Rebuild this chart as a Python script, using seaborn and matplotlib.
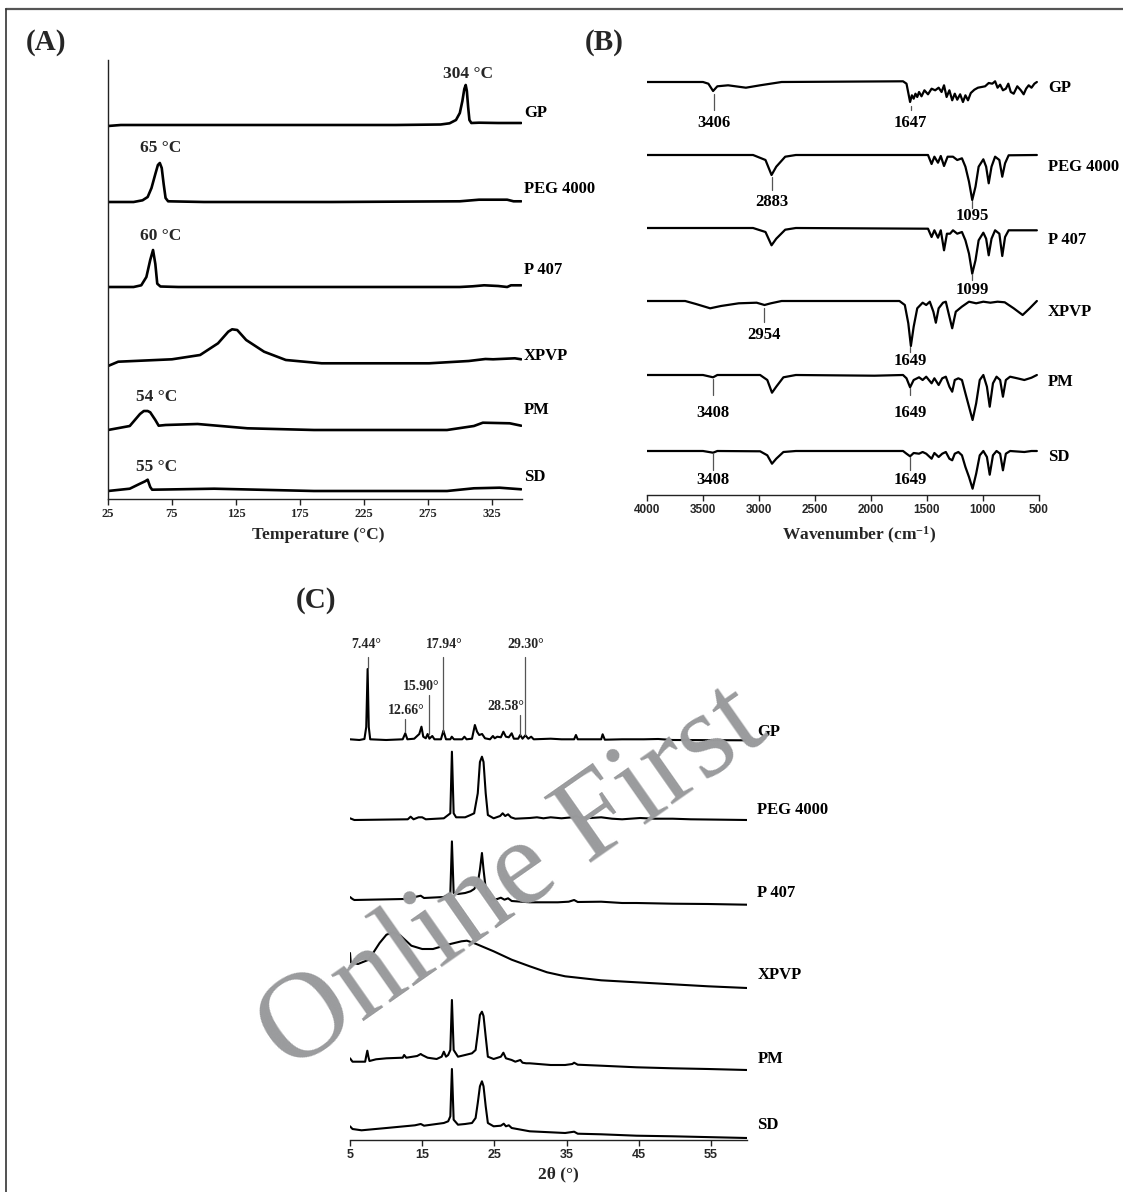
import numpy as np
import matplotlib
matplotlib.use("Agg")
import matplotlib.pyplot as plt
from matplotlib.lines import Line2D
import seaborn as sns

# ---------------- data ----------------
samples = ["GP", "PEG 4000", "P 407", "XPVP", "PM", "SD"]

# (A) DSC: temperature (°C) and heat flow (arbitrary, endo up)
dsc_temp_gp = [25, 35, 150, 250, 285, 292, 297, 300, 302, 303.5, 304.6, 305.5, 306.5, 307.5, 309, 315, 330, 348]
dsc_flow_gp = [-1, 0, 0, 0, 0.5, 1.7, 5, 12, 24, 36, 40, 34, 18, 5, 2, 2.3, 2, 2]
dsc_temp_peg = [25, 45, 52, 56, 59, 62, 64, 65.5, 67, 68.5, 70, 72, 100, 200, 300, 315, 337, 342, 348]
dsc_flow_peg = [0, 0, 1.7, 5, 14, 28, 37, 39, 34, 18, 4, 0.7, 0, 0, 0.7, 2.3, 2.3, 0.7, 0.7]
dsc_temp_p407 = [25, 45, 51, 55, 58, 60.2, 62, 63.5, 66, 80, 200, 300, 310, 319, 330, 337, 340, 348]
dsc_flow_p407 = [0, 0, 1.7, 10, 27, 37, 23, 3.3, 0.5, 0, 0, 0, 0.7, 1.7, 1, 0, 1.7, 1.7]
dsc_temp_xpvp = [25, 33, 75, 97, 111, 119, 122, 126, 133, 147, 164, 192, 276, 307, 320, 326, 343, 348]
dsc_flow_xpvp = [0, 4.3, 6.7, 11, 22.7, 34.3, 36.7, 36, 26, 14.3, 6, 2.7, 2.7, 5, 7, 6.7, 7.7, 6.7]
dsc_temp_pm = [25, 42, 46, 50, 53, 56, 58, 62, 64.6, 70, 95, 134, 186, 290, 311, 318, 339, 348]
dsc_flow_pm = [0, 4, 10, 16, 19, 19, 17.7, 10, 4.3, 5, 6, 1.7, 0, 0, 4, 7.3, 6.7, 4.3]
dsc_temp_sd = [25, 42, 50, 54, 56, 58, 59.5, 70, 108, 186, 290, 311, 331, 348]
dsc_flow_sd = [0, 2.3, 7.3, 9.7, 11.3, 4, 1.3, 1.5, 2.3, 0, 0, 2.7, 3.3, 1.7]
dsc_peak_labels = ["304 °C", "65 °C", "60 °C", None, "54 °C", "55 °C"]

# (B) FTIR: wavenumber (cm-1) and transmittance (arbitrary)
ftir_wn_gp = [4000, 3500, 3452, 3410, 3372, 3276, 3117, 2990, 2798, 1714, 1683, 1651, 1635, 1619, 1603,
              1587, 1571, 1549, 1523, 1491, 1459, 1427, 1396, 1370, 1348, 1325, 1300, 1275, 1252, 1230,
              1204, 1179, 1157, 1134, 1109, 1077, 1045, 1013, 981, 949, 917, 892, 870, 847, 822, 796,
              774, 752, 726, 694, 662, 637, 615, 592, 567, 541, 519]
ftir_t_gp = [0, 0, -1.7, -9, -4.3, -3.3, -5.7, -3.3, 0, 0.7, -1.7, -20, -13.3, -16.7, -11.7,
             -15, -10, -14.3, -8.3, -12.3, -6.7, -8.3, -5.7, -10, -3.3, -15, -8.3, -18.3, -11.7, -17.7,
             -12.3, -20, -13.3, -18.3, -11, -7.7, -5.7, -5, -4.3, -1, -1.7, 0.7, -5.7, -2.7, -8.3, -6.7,
             -1.7, -10, -11.7, -4.3, -8.3, -12.3, -6.7, -3.3, -5.7, -1.7, 0]
ftir_wn_peg = [4000, 3053, 2942, 2888, 2846, 2766, 2671, 1491, 1459, 1434, 1402, 1377, 1348, 1316, 1268,
               1230, 1188, 1157, 1125, 1096, 1067, 1039, 997, 972, 949, 924, 892, 854, 828, 803, 771, 519]
ftir_t_peg = [0, 0, -5, -20, -11.7, -1.7, 0, 0, -9, -1.7, -7.7, -1, -11, -1.7, -1.7,
              -5, -3.3, -11.7, -26.7, -45, -31.7, -11.7, -4.3, -11.7, -28.3, -11.7, -1.7, -5, -21.7, -8.3, -0.3, 0]
ftir_wn_p407 = [4000, 3053, 2942, 2888, 2846, 2766, 2671, 1491, 1459, 1434, 1402, 1377, 1348, 1322, 1294,
                1268, 1230, 1188, 1157, 1125, 1096, 1067, 1039, 997, 972, 949, 924, 892, 854, 828, 803,
                771, 631, 519]
ftir_t_p407 = [0, 0, -4, -17.3, -10.7, -1.7, 0, -0.7, -9, -2.3, -9.7, -2.3, -22.3, -5.7, -5.7,
               -2.3, -5.7, -4, -12.3, -25.7, -45.7, -32.3, -12.3, -4.7, -10.7, -27.3, -10.7, -2.3, -5.7, -28, -9,
               -2.3, -2.3, -2.3]
ftir_wn_xpvp = [4000, 3659, 3563, 3436, 3340, 3181, 3021, 2951, 2894, 2798, 1746, 1698, 1667, 1644, 1619,
                1587, 1539, 1507, 1475, 1443, 1421, 1396, 1357, 1332, 1300, 1275, 1243, 1189, 1125, 1061,
                997, 934, 870, 806, 726, 646, 583, 519]
ftir_t_xpvp = [0, 0, -3, -7.3, -5, -2.3, -1.7, -4, -2.3, 0, 0, -4, -22.3, -45, -25.7,
               -7.3, -1.7, -4, -0.7, -10.7, -21.7, -7.3, -1.7, -0.7, -15.7, -27.3, -10.7, -5.7, -0.7, -2.3,
               -0.7, -1.7, -0.7, -1.3, -7.3, -14, -7.3, 0]
ftir_wn_pm = [4000, 3500, 3410, 3372, 2990, 2926, 2884, 2846, 2782, 2671, 1969, 1714, 1683, 1651, 1619,
              1571, 1539, 1507, 1459, 1434, 1396, 1364, 1332, 1300, 1275, 1252, 1220, 1188, 1157, 1125,
              1093, 1061, 1029, 997, 965, 940, 911, 879, 847, 822, 796, 758, 694, 631, 567, 519]
ftir_t_pm = [0, 0, -2.3, 0, 0, -5, -17.7, -11.7, -2.3, 0, -0.7, 0, -3.3, -12.3, -5,
             -2.3, -5, -1.7, -8.3, -3.3, -10, -3.3, -1.7, -11.7, -16.7, -5, -3.3, -5, -18.3, -31.7,
             -45, -28.3, -5, 0, -11.7, -31.7, -8.3, -1.7, -5, -21.7, -5, -1.7, -3.3, -5, -2.7, 0]
ftir_wn_sd = [4000, 3500, 3410, 3372, 2990, 2926, 2884, 2846, 2782, 2671, 1714, 1683, 1651, 1619, 1571,
              1539, 1507, 1459, 1434, 1396, 1364, 1332, 1300, 1275, 1252, 1220, 1188, 1157, 1125, 1093,
              1061, 1029, 997, 965, 940, 911, 879, 847, 822, 796, 758, 631, 567, 519]
ftir_t_sd = [0, 0, -1.7, 0, -0.3, -4.3, -12.7, -7.7, -1, 0, 0, -2.7, -5.3, -2, -2.7,
             -1, -2.7, -7.7, -2, -6, -2.7, -1, -7.7, -9.3, -2.7, -1, -4.3, -16, -26, -37.7,
             -22.7, -4.3, 0, -6, -23.7, -4.3, 0, -2.7, -19.3, -2.7, 0, -1, 0, 0]
ftir_mark_sample = ["GP", "GP", "PEG 4000", "PEG 4000", "P 407", "XPVP", "XPVP", "PM", "PM", "SD", "SD"]
ftir_mark_wn = [3406, 1647, 2883, 1095, 1099, 2954, 1649, 3408, 1649, 3408, 1649]

# (C) XRD: 2theta (°) and intensity (arbitrary)
xrd_2t_gp = [5.0, 6.3, 7.0, 7.25, 7.44, 7.6, 7.8, 10.0, 12.3, 12.66, 12.95, 13.9, 14.3, 14.6, 14.9, 15.15,
             15.5, 15.75, 16.0, 16.4, 16.7, 17.6, 17.94, 18.3, 18.9, 19.1, 19.4, 20.55, 20.85, 21.15, 21.9,
             22.3, 22.6, 22.9, 23.3, 23.7, 24.4, 24.8, 25.05, 25.4, 25.9, 26.25, 26.6, 27.0, 27.4, 27.7,
             28.3, 28.58, 28.9, 29.3, 29.7, 30.1, 30.45, 32.8, 34.3, 36.05, 36.3, 36.55, 39.8, 40.0, 40.3,
             42.7, 45.7, 47.7, 49.7, 59.8]
xrd_i_gp = [0.7, 0, 1, 13, 71, 13, 0.7, 0, 0.7, 6.7, 0.7, 1.3, 4, 6, 13.3, 3.3,
            1.7, 6, 1.3, 4, 0.7, 0.7, 9.3, 0.7, 0.7, 3.3, 0.7, 0.7, 3.3, 0.7, 1.3,
            15, 8.3, 5, 6, 1.7, 0.7, 4, 1.7, 3.3, 2.7, 8.3, 3.3, 2.7, 6.7, 1.3,
            1.3, 5, 1.3, 4.7, 1.3, 3.3, 0.7, 1.3, 0.7, 0.7, 5, 0.7, 0.7, 5.7, 0.3,
            0.7, 0.7, 1, 0, -0.3]
xrd_2t_peg = [5.0, 5.6, 13.0, 13.4, 13.8, 14.5, 15.0, 15.5, 18.0, 18.6, 18.9, 19.12, 19.36, 19.7, 20.95,
              21.7, 22.2, 22.7, 23.0, 23.28, 23.5, 23.8, 24.1, 24.9, 25.8, 26.15, 26.5, 26.9, 27.3, 27.9,
              29.9, 30.9, 31.8, 32.8, 34.3, 35.8, 36.3, 36.8, 38.3, 39.8, 41.3, 42.7, 45.2, 47.2, 49.7,
              52.2, 60.0]
xrd_i_peg = [1.7, 0, 0.7, 3.3, 0.7, 2.7, 2.7, 0.7, 1.7, 5, 6.7, 68.3, 6.7, 2.7, 2.7,
             5, 6.7, 26.7, 58, 63.3, 58, 26.7, 5, 1.7, 4, 6.7, 4, 5.7, 2.7, 1.3,
             2, 2.7, 1.7, 2.7, 1.7, 2.7, 4, 2.3, 2, 2.7, 1.3, 0.7, 2, 1.3, 1.3,
             0.7, 0]
xrd_2t_p407 = [5.0, 5.35, 5.6, 12.5, 14.0, 14.8, 15.25, 18.0, 18.6, 18.9, 19.12, 19.36, 19.96, 20.95, 21.7,
               22.2, 22.7, 23.0, 23.28, 23.5, 23.9, 24.7, 25.4, 25.9, 26.4, 26.9, 27.4, 29.9, 33.8, 35.3,
               36.05, 36.55, 39.8, 42.7, 44.7, 49.7, 54.6, 60.0]
xrd_i_p407 = [2, 0, -1, 0, 2, 3.3, 1, 2, 4.3, 6, 57.6, 6, 5, 6, 7.7,
              10, 16, 29.3, 46, 29.3, 4.3, -0.7, 0, 1.3, -0.7, 0.7, -2, -3.3, -3.3, -2.7,
              -1, -3, -2.7, -4, -4, -4.7, -5, -5.7]
xrd_2t_xpvp = [5.0, 5.1, 6.1, 7.6, 9.1, 10.05, 10.95, 12.0, 13.5, 15.0, 16.5, 18.5, 20.45, 21.2, 22.4,
               24.9, 27.4, 29.9, 32.3, 34.8, 37.3, 39.8, 44.7, 49.7, 54.6, 60.0]
xrd_i_xpvp = [35, 25.7, 24, 28.3, 45, 53.3, 55.7, 52.3, 42.3, 39, 39, 43.3, 46.7, 47.3, 44.3,
              36.7, 28.3, 21.7, 15.7, 11.7, 9.7, 7.7, 5.7, 3.7, 1.7, 0]
xrd_2t_pm = [5.0, 5.35, 7.1, 7.23, 7.4, 7.55, 7.7, 8.6, 10.05, 12.3, 12.5, 12.8, 14.3, 14.8, 15.0,
             15.75, 17.0, 17.7, 18.0, 18.3, 18.6, 18.9, 19.12, 19.36, 19.96, 20.95, 21.9, 22.4, 22.7, 23.0,
             23.28, 23.5, 23.8, 24.1, 24.9, 25.9, 26.25, 26.6, 27.4, 27.9, 28.6, 28.9, 29.4, 29.9, 32.8,
             34.8, 35.8, 36.05, 36.55, 39.8, 44.7, 49.7, 54.6, 60.0]
xrd_i_pm = [1.7, -1.7, -1.7, 3.3, 9.3, 3.3, -1, 0.7, 1.7, 2.3, 5, 2.3, 4, 6, 5,
            2.3, 1, 3.3, 8.3, 3.3, 5, 10, 60, 10, 3.3, 5, 6.7, 10, 26.7, 45,
            48.3, 44, 23.3, 3.3, 1, 3.3, 7.3, 1.7, 0, -1.7, 0, -2.7, -3.3, -3.3, -5,
            -5, -4, -2.7, -4.7, -5.7, -7.3, -8.3, -9, -10]
xrd_2t_sd = [5.0, 5.35, 6.6, 10.05, 14.0, 14.8, 15.0, 15.25, 18.0, 18.6, 18.9, 19.12, 19.36, 19.96, 20.95,
             21.9, 22.4, 22.7, 23.0, 23.28, 23.5, 23.8, 24.1, 24.9, 25.9, 26.3, 26.6, 27.0, 27.4, 29.9,
             32.8, 34.8, 36.05, 36.55, 39.8, 44.7, 49.7, 60.0]
xrd_i_sd = [1.7, -1, -2.3, 0, 2.7, 4, 3.3, 2.3, 5, 6.7, 11.7, 59, 8.3, 3.3, 4,
            5, 10, 25, 41.7, 46.7, 41.7, 21.7, 5, 1.7, 2.3, 4.3, 1.7, 2.7, 0, -3.3,
            -4.3, -5, -3.7, -5.7, -6.3, -7.7, -8.3, -10]
xrd_mark_angles = [7.44, 12.66, 15.90, 17.94, 28.58, 29.30]

dsc_x = [dsc_temp_gp, dsc_temp_peg, dsc_temp_p407, dsc_temp_xpvp, dsc_temp_pm, dsc_temp_sd]
dsc_y = [dsc_flow_gp, dsc_flow_peg, dsc_flow_p407, dsc_flow_xpvp, dsc_flow_pm, dsc_flow_sd]
ftir_x = [ftir_wn_gp, ftir_wn_peg, ftir_wn_p407, ftir_wn_xpvp, ftir_wn_pm, ftir_wn_sd]
ftir_y = [ftir_t_gp, ftir_t_peg, ftir_t_p407, ftir_t_xpvp, ftir_t_pm, ftir_t_sd]
xrd_x = [xrd_2t_gp, xrd_2t_peg, xrd_2t_p407, xrd_2t_xpvp, xrd_2t_pm, xrd_2t_sd]
xrd_y = [xrd_i_gp, xrd_i_peg, xrd_i_p407, xrd_i_xpvp, xrd_i_pm, xrd_i_sd]

# ---------------- style ----------------
sns.set_theme(style="white")
SERIF = ["Liberation Serif", "DejaVu Serif"]
SANS = ["Liberation Sans Narrow", "Liberation Sans", "DejaVu Sans"]
plt.rcParams["font.family"] = SERIF
plt.rcParams["mathtext.fontset"] = "custom"
plt.rcParams["mathtext.rm"] = "Liberation Serif:bold"
plt.rcParams["mathtext.bf"] = "Liberation Serif:bold"
plt.rcParams["mathtext.default"] = "rm"

W, H = 1123, 1192
fig = plt.figure(figsize=(W / 100, H / 100), dpi=100)
fig.patch.set_facecolor("white")


def box(x0, y0, x1, y1):
    return [x0 / W, 1 - y1 / H, (x1 - x0) / W, (y1 - y0) / H]


axA = fig.add_axes(box(108, 60, 522, 499))
axB = fig.add_axes(box(647, 60, 1039, 495))
axC = fig.add_axes(box(350, 620, 747, 1140))
for ax in (axA, axB, axC):
    ax.set_facecolor("none")
    for s in ("top", "right"):
        ax.spines[s].set_visible(False)
    ax.spines["bottom"].set_color("#222222")
    ax.spines["bottom"].set_linewidth(1.0)
    ax.tick_params(axis="x", bottom=True, direction="out", length=4, width=1.0,
                   color="#222222", pad=2.5)
    ax.tick_params(axis="y", left=False, labelleft=False)
axA.spines["left"].set_color("#222222")
axA.spines["left"].set_linewidth(1.0)
axB.spines["left"].set_visible(False)
axC.spines["left"].set_visible(False)

LBL = dict(fontsize=12, fontweight="bold", color="black", clip_on=False)

# ---------------- (A) DSC ----------------
offA = [374, 297, 212, 133, 69, 8]
lblA_dy = [12, 13, 17, 10, 20, 14]
annA_gap = [11, 15, 14, None, 14, 13]
annA_dx = [1.7, 0.5, 5.8, None, 9.7, 6.7]
for i, name in enumerate(samples):
    x = np.asarray(dsc_x[i], float)
    y = np.asarray(dsc_y[i], float) + offA[i]
    sns.lineplot(x=x, y=y, ax=axA, color="black", linewidth=1.9, sort=False,
                 estimator=None, errorbar=None)
    axA.text(350.2, offA[i] + lblA_dy[i], name, ha="left", va="center", **LBL)
    if dsc_peak_labels[i]:
        k = int(np.argmax(dsc_y[i]))
        axA.text(x[k] + annA_dx[i], y[k] + annA_gap[i], dsc_peak_labels[i],
                 ha="center", va="center", fontsize=12.5, fontweight="bold", clip_on=False)
axA.set_xlim(25, 348.6)
axA.set_ylim(0, 439)
axA.set_xticks([25, 75, 125, 175, 225, 275, 325],
               labels=["25", "75", "125", "175", "225", "275", "325"],
               fontsize=9, fontweight="bold", fontfamily=SERIF)
axA.set_xlabel("Temperature (°C)", fontsize=12.5, fontweight="bold")
axA.xaxis.set_label_coords(0.507, -0.082)
axA.xaxis.label.set_va("center")
axA.set_ylabel("Heat flow (mW) Endo up", fontsize=12.5, fontweight="bold")
axA.yaxis.set_label_coords(-0.046, 0.451)
axA.yaxis.label.set_va("center")

# ---------------- (B) FTIR ----------------
offB = [413, 340, 267, 194, 120, 44]
lblB_dy = [-6, -12, -12, -11, -7, -6]
markB_line = [(-12, -28), (-24, -28), (-22, -35), (-46, -53), (-46, -52), (-7, -21),
              (-46, -51), (-4, -20), (-13, -20), (-2, -19), (-6, -19)]
markB_text = [-41, -41, -47, -61, -62, -34, -60, -38, -38, -29, -29]
for i, name in enumerate(samples):
    x = np.asarray(ftir_x[i], float)
    y = np.asarray(ftir_y[i], float) + offB[i]
    sns.lineplot(x=x, y=y, ax=axB, color="black", linewidth=1.6, sort=False,
                 estimator=None, errorbar=None)
    axB.text(420, offB[i] + lblB_dy[i], name, ha="left", va="center", **LBL)
for j, (smp, wn) in enumerate(zip(ftir_mark_sample, ftir_mark_wn)):
    o = offB[samples.index(smp)]
    axB.plot([wn, wn], [o + markB_line[j][0], o + markB_line[j][1]], color="#555555", lw=0.9)
    axB.text(wn, o + markB_text[j], str(wn), ha="center", va="center", **LBL)
axB.set_xlim(4000, 500)
axB.set_ylim(0, 435)
tB = [4000, 3500, 3000, 2500, 2000, 1500, 1000, 500]
axB.set_xticks(tB, labels=[str(t) for t in tB], fontsize=8.5, fontweight="bold", fontfamily=SANS)
axB.set_xlabel("Wavenumber (cm$^{-1}$)", fontsize=12.5, fontweight="bold")
axB.xaxis.set_label_coords(0.542, -0.092)
axB.xaxis.label.set_va("center")

# ---------------- (C) XRD ----------------
offC = [400, 320, 241, 152, 80, 12]
lblC_dy = [8, 10, 6, 13, 1, 3]
markC_line = [(72, 83), (8, 21), (6, 45), (8, 83), (5, 25), (5, 83)]
markC_text = [(7.2, 95), (12.8, 30), (14.9, 54), (18.0, 95), (26.6, 33), (29.3, 95)]
for i, name in enumerate(samples):
    x = np.asarray(xrd_x[i], float)
    y = np.asarray(xrd_y[i], float) + offC[i]
    sns.lineplot(x=x, y=y, ax=axC, color="black", linewidth=1.5, sort=False,
                 estimator=None, errorbar=None)
    axC.text(61.45, offC[i] + lblC_dy[i], name, ha="left", va="center", **LBL)
for j, ang in enumerate(xrd_mark_angles):
    axC.plot([ang, ang], [offC[0] + markC_line[j][0], offC[0] + markC_line[j][1]],
             color="#555555", lw=0.9)
    axC.text(markC_text[j][0], offC[0] + markC_text[j][1], f"{ang:.2f}°", ha="center",
             va="center", fontsize=10, fontweight="bold", clip_on=False)
axC.set_xlim(5, 60)
axC.set_ylim(0, 520)
tC = [5, 15, 25, 35, 45, 55]
axC.set_xticks(tC, labels=[str(t) for t in tC], fontsize=9, fontweight="bold", fontfamily=SANS)
axC.set_xlabel("2θ (°)", fontsize=12.5, fontweight="bold")
axC.xaxis.set_label_coords(0.525, -0.067)
axC.xaxis.label.set_va("center")

# ---------------- panel letters, frame, watermark ----------------
for txt, px, py in (("(A)", 46, 42), ("(B)", 604, 42), ("(C)", 316, 600)):
    fig.text(px / W, 1 - py / H, txt, ha="center", va="center", fontsize=21, fontweight="bold")

fig.add_artist(Line2D([6 / W, 1.0], [1 - 9 / H, 1 - 9 / H], transform=fig.transFigure,
                      color="#555555", lw=1.6))
fig.add_artist(Line2D([6 / W, 6 / W], [0, 1 - 9 / H], transform=fig.transFigure,
                      color="#333333", lw=1.2))

fig.text(513 / W, 1 - 880 / H, "Online First", ha="center", va="center", rotation=35,
         rotation_mode="anchor", fontsize=88, fontfamily=SERIF, color="#9a9b9d", zorder=10)

fig.savefig("out.png", dpi=100, facecolor="white")
